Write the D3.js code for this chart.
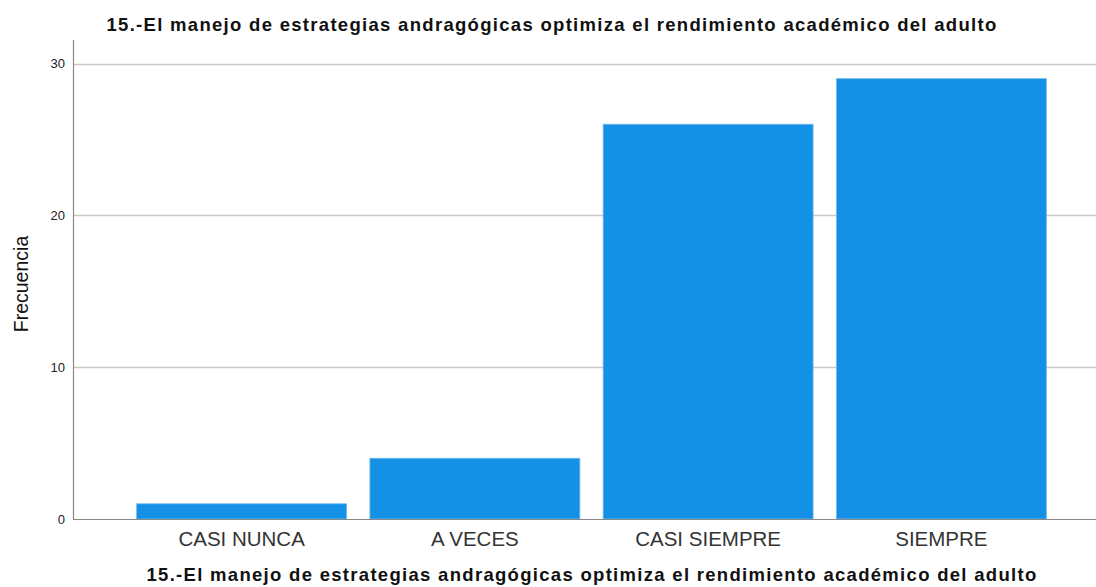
<!DOCTYPE html>
<html>
<head>
<meta charset="utf-8">
<script src="https://cdn.jsdelivr.net/npm/d3@7"></script>
<style>
  body { margin: 0; background: #fff; }
  text { font-family: "Liberation Sans", Arial, sans-serif; }
</style>
</head>
<body>
<div id="chart"></div>
<script>
var width = 1096;
var height = 587;

// data
var categories = ["CASI NUNCA", "A VECES", "CASI SIEMPRE", "SIEMPRE"];
var frecuencia = [1, 4, 26, 29];
var yTicks = [0, 10, 20, 30];
var titulo = "15.-El manejo de estrategias andragógicas optimiza el rendimiento académico del adulto";

var svg = d3.select("#chart")
    .append("svg")
    .attr("width", width)
    .attr("height", height);

var x = d3.scaleBand()
    .domain(categories)
    .range([125, 1058])
    .paddingInner(0.1)
    .paddingOuter(0.05);

var y = d3.scaleLinear()
    .domain([0, 30])
    .range([519, 63.5]);

// gridlines
svg.append("g")
    .selectAll("line")
    .data(yTicks.filter(function(d){ return d > 0; }))
    .enter()
        .append("line")
        .attr("x1", 74)
        .attr("x2", width)
        .attr("y1", function(d){ return Math.round(y(d)) + 0.5; })
        .attr("y2", function(d){ return Math.round(y(d)) + 0.5; })
        .attr("stroke", "#c8c8c8")
        .attr("stroke-width", 1.5);

// bars
svg.append("g")
    .selectAll("rect")
    .data(frecuencia)
    .enter()
        .append("rect")
        .attr("x", function(d,i){ return x(categories[i]); })
        .attr("width", x.bandwidth())
        .attr("y", function(d){ return y(d); })
        .attr("height", function(d){ return y(0) - y(d); })
        .attr("fill", "#1490e6")
        .attr("stroke", "#6fb8ee")
        .attr("stroke-width", 0.8);

// y axis line and baseline
svg.append("line")
    .attr("x1", 73.5).attr("x2", 73.5)
    .attr("y1", 40).attr("y2", 519.5)
    .attr("stroke", "#888").attr("stroke-width", 1.2);
svg.append("line")
    .attr("x1", 73).attr("x2", width)
    .attr("y1", 519.5).attr("y2", 519.5)
    .attr("stroke", "#888").attr("stroke-width", 1.2);

// y tick labels
svg.append("g")
    .selectAll("text")
    .data(yTicks)
    .enter()
        .append("text")
        .attr("x", 65)
        .attr("y", function(d){ return y(d) + 4.5; })
        .attr("text-anchor", "end")
        .attr("font-size", 13)
        .attr("fill", "#222")
        .text(function(d){ return d; });

// category labels
svg.append("g")
    .selectAll("text")
    .data(categories)
    .enter()
        .append("text")
        .attr("x", function(d){ return x(d) + x.bandwidth() / 2; })
        .attr("y", 546)
        .attr("text-anchor", "middle")
        .attr("font-size", 20.5)
        .attr("fill", "#333")
        .text(function(d){ return d; });

// y axis title
svg.append("text")
    .attr("transform", "translate(28,284) rotate(-90)")
    .attr("text-anchor", "middle")
    .attr("font-size", 19.5)
    .attr("fill", "#111")
    .text("Frecuencia");

// top title
svg.append("text")
    .attr("x", 552)
    .attr("y", 31)
    .attr("text-anchor", "middle")
    .attr("font-size", 18.5)
    .attr("letter-spacing", 1.3)
    .attr("font-weight", "bold")
    .attr("fill", "#111")
    .text(titulo);

// bottom title
svg.append("text")
    .attr("x", 592)
    .attr("y", 581)
    .attr("text-anchor", "middle")
    .attr("font-size", 18.5)
    .attr("letter-spacing", 1.3)
    .attr("font-weight", "bold")
    .attr("fill", "#111")
    .text(titulo);
</script>
</body>
</html>
